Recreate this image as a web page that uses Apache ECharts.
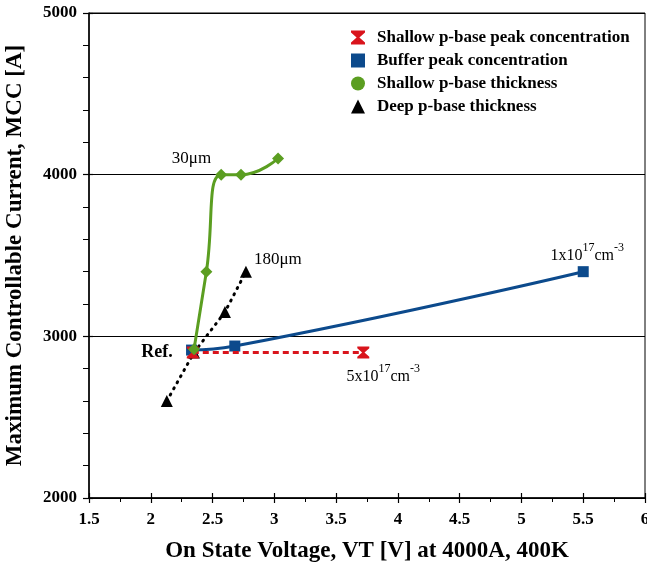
<!DOCTYPE html>
<html><head><meta charset="utf-8">
<script src="https://cdn.jsdelivr.net/npm/echarts@6/dist/echarts.min.js"></script>
<style>html,body{margin:0;padding:0;background:#fff}#c{width:647px;height:562px}</style>
</head><body><div id="c"></div>
<script>
const seriesNames = ['Shallow p-base peak concentration','Buffer peak concentration','Shallow p-base thickness','Deep p-base thickness'];
const redX = [2.34, 3.72];
const redY = [2900, 2900];
const blueX = [2.33, 2.68, 5.5];
const blueY = [2915, 2940, 3400];
const greenX = [2.35, 2.45, 2.57, 2.73, 3.03];
const greenY = [2920, 3400, 4000, 4000, 4100];
const blackX = [2.13, 2.35, 2.6, 2.77];
const blackY = [2600, 2900, 3150, 3400];
const xTicks = [1.5, 2, 2.5, 3, 3.5, 4, 4.5, 5, 5.5, 6];
const yTicks = [2000, 3000, 4000, 5000];

const F = '"Liberation Serif","Times New Roman",serif';
const hourglass = 'path://M0,0 L10,0 L10,1.5 L6,5 L10,8.5 L10,10 L0,10 L0,8.5 L4,5 L0,1.5 Z';
const RED = '#d9141c', BLUE = '#0c4a8c', GREEN = '#5b9e21', BLACK = '#000';
const zip = (xs, ys) => xs.map((x, i) => [x, ys[i]]);
const sup = {
  a: {fontFamily: F, fontSize: 16, color: '#000', lineHeight: 22, verticalAlign: 'bottom'},
  s: {fontFamily: F, fontSize: 12, color: '#000', lineHeight: 22, verticalAlign: 'top'}
};

const chart = echarts.init(document.getElementById('c'), null, {renderer: 'canvas'});
const redData = zip(redX, redY).map((p, i) => i === redX.length - 1 ? {value: p, label: {show: true, position: 'bottom', distance: 4, offset: [20, 0], formatter: '{a|5x10}{s|17}{a|cm}{s|-3}', rich: sup}} :
  {value: p, label: {show: true, position: 'left', distance: 14, formatter: 'Ref.', fontFamily: F, fontWeight: 'bold', fontSize: 18, color: '#000'}});
const blueData = zip(blueX, blueY).map((p, i) => i === blueX.length - 1 ? {value: p, label: {show: true, position: 'top', distance: 2, offset: [4, 0], formatter: '{a|1x10}{s|17}{a|cm}{s|-3}', rich: sup}} : {value: p});
const greenData = zip(greenX, greenY).map((p, i) => i === 2 ? {value: p, label: {show: true, position: 'left', distance: 4, offset: [0, -16], formatter: '30μm', fontFamily: F, fontSize: 17, color: '#000'}} : {value: p});
const blackData = zip(blackX, blackY).map((p, i) => i === blackX.length - 1 ? {value: p, label: {show: true, position: 'right', distance: 2, offset: [0, -12], formatter: '180μm', fontFamily: F, fontSize: 17, color: '#000'}} : {value: p});

const axisLabelStyle = {fontFamily: F, fontWeight: 'bold', fontSize: 17, color: '#000'};
chart.setOption({
  animation: false,
  backgroundColor: '#fff',
  grid: {left: 89, right: 2, top: 13, bottom: 64, show: true, borderColor: '#000', borderWidth: 1, outerBoundsMode: 'none', containLabel: false},
  legend: {
    orient: 'vertical', left: 346, top: 24, itemGap: 6, itemWidth: 14, itemHeight: 14,
    textStyle: {fontFamily: F, fontWeight: 'bold', fontSize: 17, lineHeight: 16, color: '#000', padding: [0, 0, 0, 7]},
    data: [
      {name: seriesNames[0], icon: hourglass, itemStyle: {color: RED}},
      {name: seriesNames[1], icon: 'rect'},
      {name: seriesNames[2], icon: 'circle'},
      {name: seriesNames[3], icon: 'triangle'}
    ]
  },
  xAxis: [{
    type: 'value', min: 1.5, max: 6, interval: 0.5,
    axisLine: {show: true, lineStyle: {color: '#000', width: 1.5}},
    axisTick: {show: true, length: 5, lineStyle: {color: '#000', width: 1.2}},
    minorTick: {show: true, splitNumber: 2, length: 4, lineStyle: {color: '#000'}},
    splitLine: {show: false},
    axisLabel: Object.assign({margin: 13, formatter: v => String(v), showMaxLabel: true}, axisLabelStyle),
    name: 'On State Voltage, VT [V] at 4000A, 400K', nameLocation: 'middle', nameGap: 42,
    nameTextStyle: {fontFamily: F, fontWeight: 'bold', fontSize: 23, color: '#000'}
  }, {
    type: 'value', min: 1.5, max: 6, interval: 0.5, position: 'bottom',
    axisLine: {show: false}, axisLabel: {show: false}, splitLine: {show: false},
    axisTick: {show: true, inside: true, length: 5, lineStyle: {color: '#000', width: 1.2}}
  }],
  yAxis: [{
    type: 'value', min: 2000, max: 5000, interval: 1000,
    axisLine: {show: true, lineStyle: {color: '#000', width: 1.5}},
    axisTick: {show: true, length: 6, lineStyle: {color: '#000', width: 1.2}},
    minorTick: {show: true, splitNumber: 5, length: 6, lineStyle: {color: '#000'}},
    splitLine: {show: true, lineStyle: {color: '#000', width: 1}},
    axisLabel: Object.assign({margin: 12, formatter: v => String(v)}, axisLabelStyle),
    name: 'Maximum Controllable Current, MCC [A]', nameLocation: 'middle', nameGap: 62, nameRotate: 90,
    nameTextStyle: {fontFamily: F, fontWeight: 'bold', fontSize: 23, color: '#000'}
  }, {
    type: 'value', min: 2000, max: 5000, interval: 1000, position: 'left',
    axisLine: {show: false}, axisLabel: {show: false}, splitLine: {show: false},
    axisTick: {show: true, inside: true, length: 4, lineStyle: {color: '#000', width: 1.2}}
  }],
  series: [
    {name: seriesNames[3], type: 'line', data: blackData, symbol: 'triangle', symbolSize: 12,
      itemStyle: {color: BLACK}, lineStyle: {color: BLACK, width: 3, type: [1, 6], cap: 'round'}, z: 2},
    {name: seriesNames[1], type: 'line', data: blueData, symbol: 'rect', symbolSize: 11, smooth: true,
      itemStyle: {color: BLUE}, lineStyle: {color: BLUE, width: 3}, z: 3},
    {name: seriesNames[0], type: 'line', data: redData, symbol: hourglass, symbolSize: 12,
      itemStyle: {color: RED}, lineStyle: {color: RED, width: 3, type: [6, 4]}, z: 4},
    {name: seriesNames[2], type: 'line', data: greenData, symbol: 'diamond', symbolSize: 12, smooth: 0.5,
      itemStyle: {color: GREEN}, lineStyle: {color: GREEN, width: 3}, z: 5}
  ]
});
</script></body></html>
